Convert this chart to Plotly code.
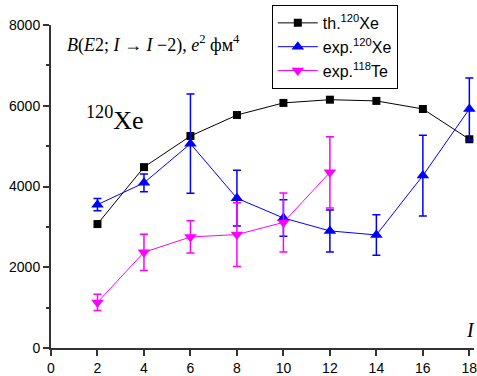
import plotly.graph_objects as go

spins = [2, 4, 6, 8, 10, 12, 14, 16, 18]
th_xe120 = [3070, 4480, 5250, 5770, 6070, 6150, 6120, 5920, 5170]

exp_xe120_x = [2, 4, 6, 8, 10, 12, 14, 16, 18]
exp_xe120 = [3550, 4090, 5060, 3710, 3220, 2900, 2800, 4270, 5920]
exp_xe120_err = [150, 220, 1230, 690, 450, 520, 500, 1000, 770]

exp_te118_x = [2, 4, 6, 8, 10, 12]
exp_te118 = [1130, 2370, 2750, 2810, 3110, 4350]
exp_te118_err = [200, 450, 400, 790, 730, 880]

x_ticks = [0, 2, 4, 6, 8, 10, 12, 14, 16, 18]
y_ticks = [0, 2000, 4000, 6000, 8000]

names = ["th.<sup>120</sup>Xe", "exp.<sup>120</sup>Xe", "exp.<sup>118</sup>Te"]

fig = go.Figure()
fig.add_trace(go.Scatter(
    x=spins, y=th_xe120, name=names[0], mode="lines+markers",
    line=dict(color="black", width=1),
    marker=dict(symbol="square", size=8, color="black"),
    cliponaxis=False,
))
fig.add_trace(go.Scatter(
    x=exp_xe120_x, y=exp_xe120, name=names[1], mode="lines+markers",
    line=dict(color="#0000FF", width=1),
    marker=dict(symbol="triangle-up", size=11, color="#0000FF"),
    error_y=dict(type="data", array=exp_xe120_err, color="#0000FF", thickness=1.5, width=4),
    cliponaxis=False,
))
fig.add_trace(go.Scatter(
    x=exp_te118_x, y=exp_te118, name=names[2], mode="lines+markers",
    line=dict(color="#FF00FF", width=1),
    marker=dict(symbol="triangle-down", size=11, color="#FF00FF"),
    error_y=dict(type="data", array=exp_te118_err, color="#FF00FF", thickness=1.5, width=4),
    cliponaxis=False,
))

axis_common = dict(
    showline=True, linecolor="#333333", linewidth=2, mirror=False,
    ticks="outside", ticklen=6, tickwidth=1.5, tickcolor="#333333",
    showgrid=False, zeroline=False, ticklabeloverflow="allow",
    tickfont=dict(family="Liberation Sans, Arial", size=14, color="black"),
)

fig.update_layout(
    width=477, height=376,
    margin=dict(l=51, r=3, t=25, b=28, autoexpand=False),
    paper_bgcolor="white", plot_bgcolor="white",
    xaxis=dict(range=[0, 18.2], tickvals=x_ticks, automargin=False, **axis_common),
    yaxis=dict(range=[0, 8000], tickvals=y_ticks, automargin=False,
               minor=dict(dtick=1000, ticks="outside", ticklen=3, tickcolor="#333333"),
               **axis_common),
    legend=dict(
        x=0.522, y=1.062, xanchor="left", yanchor="top",
        bordercolor="black", borderwidth=1, bgcolor="white",
        font=dict(family="Liberation Sans, Arial", size=16, color="black"),
        tracegroupgap=0, itemwidth=40,
    ),
    showlegend=True,
    annotations=[
        dict(text="<i>B</i>(<i>E</i>2; <i>I</i> → <i>I</i> −2), <i>e</i><sup>2</sup> фм<sup>4</sup>",
             xref="paper", yref="paper", x=(65 - 51) / 423, y=(348 - 44) / 323,
             xanchor="left", yanchor="middle", showarrow=False,
             font=dict(family="Liberation Serif, Times New Roman", size=18, color="black")),
        dict(text="<sup>120</sup>Xe",
             xref="paper", yref="paper", x=(84 - 51) / 423, y=(348 - 118) / 323,
             xanchor="left", yanchor="middle", showarrow=False,
             font=dict(family="Liberation Serif, Times New Roman", size=26, color="black")),
        dict(text="<i>I</i>",
             xref="paper", yref="paper", x=(470 - 51) / 423, y=(348 - 330) / 323,
             xanchor="center", yanchor="middle", showarrow=False,
             font=dict(family="Liberation Serif, Times New Roman", size=20, color="black")),
    ],
)

fig.write_html("out.html", config={"displayModeBar": False},
               post_script="document.body.style.margin='0px';document.body.style.overflow='hidden';")
